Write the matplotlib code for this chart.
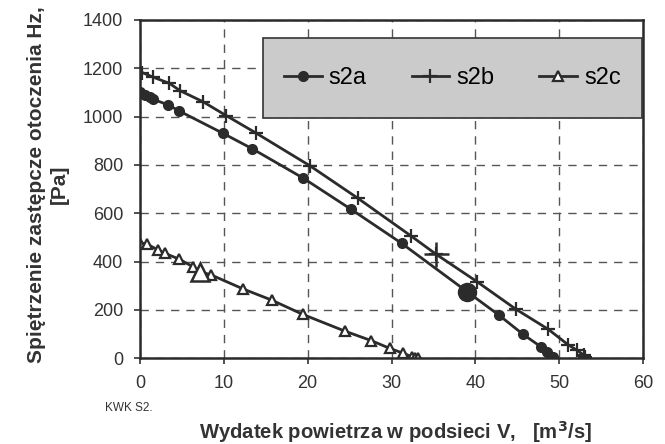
import matplotlib
matplotlib.use("Agg")
import matplotlib.pyplot as plt
from matplotlib.patches import Rectangle

plt.rcParams["font.family"] = ["Liberation Sans", "DejaVu Sans"]

# s2a - circles
s2a_x = [0, 0.6, 1.2, 1.5, 3.4, 4.7, 9.9, 13.4, 19.5, 25.2, 31.2, 39.0, 42.8, 45.7, 47.8, 48.5, 49.3]
s2a_y = [1103, 1089, 1082, 1073, 1048, 1023, 931, 867, 745, 616, 476, 276, 179, 99, 48, 27, 7]
# s2b - plus
s2b_x = [0.3, 1.6, 3.5, 4.8, 7.5, 10.3, 13.8, 20.3, 26.0, 32.3, 35.3, 40.2, 44.8, 48.7, 51.1, 52.1, 52.9, 53.1]
s2b_y = [1182, 1163, 1138, 1107, 1062, 1004, 933, 796, 662, 507, 431, 317, 204, 120, 55, 34, 14, 5]
# s2c - triangles
s2c_x = [0, 0.8, 2.2, 3.0, 4.7, 6.3, 7.2, 8.5, 12.3, 15.7, 19.4, 24.4, 27.6, 29.8, 31.4, 32.4, 32.8, 33.1]
s2c_y = [478, 473, 448, 434, 410, 379, 358, 345, 287, 241, 182, 113, 73, 41, 21, 7, 3, 1]

# operating points (drawn larger)
op_a = (39.0, 276)
op_b = (35.3, 431)
op_c = (7.2, 358)

col = "#2b2b2b"

fig = plt.figure(figsize=(6.65, 4.44), dpi=100)
ax = fig.add_axes([0.2105, 0.193, 0.7565, 0.762])

ax.plot(s2a_x, s2a_y, color=col, lw=2, marker="o", ms=7, label="s2a")
ax.plot(s2b_x, s2b_y, color=col, lw=2, marker="+", ms=10, mew=1.6, label="s2b")
ax.plot(s2c_x, s2c_y, color=col, lw=2, marker="^", ms=7, mfc="white", mew=1.6, label="s2c")
ax.plot(*op_a, color=col, marker="o", ms=13)
ax.plot(*op_b, color=col, marker="+", ms=18, mew=1.8)
ax.plot(*op_c, color=col, marker="^", ms=13, mfc="white", mew=1.8)

ax.set_xlim(0, 60)
ax.set_ylim(0, 1400)
ax.set_xticks(range(0, 61, 10))
ax.set_yticks(range(0, 1401, 200))
ax.grid(True, ls=(0, (6, 5)), color="#555555", lw=1)
ax.set_axisbelow(True)
for s in ax.spines.values():
    s.set_linewidth(1.8)
    s.set_color(col)
ax.tick_params(labelsize=13, colors="#333333", direction="out", length=4, width=1.2, pad=8)

box = Rectangle((0.244, 0.711), 0.754, 0.235, transform=ax.transAxes,
                facecolor="#cbcbcb", edgecolor="#333333", lw=1.2, zorder=4)
ax.add_patch(box)
ax.legend(loc="center", bbox_to_anchor=(0.621, 0.8285), ncol=3, frameon=False,
          fontsize=17, handlelength=1.6, columnspacing=1.9, handletextpad=0.3)

fig.text(0.072, 0.585, "Spiętrzenie zastępcze otoczenia Hz,\n[Pa]", rotation=90,
         ha="center", va="center", fontsize=15, fontweight="bold", color="#333333",
         multialignment="center", linespacing=1.3)
fig.text(0.158, 0.08, "KWK S2.", fontsize=8.5, color="#333333", ha="left", va="center")
fig.text(0.594, 0.027, "Wydatek powietrza w podsieci V,   [m$^\\mathbf{3}$/s]", fontsize=14.6,
         fontweight="bold", color="#333333", ha="center", va="center")

fig.savefig("out.png", dpi=100)
